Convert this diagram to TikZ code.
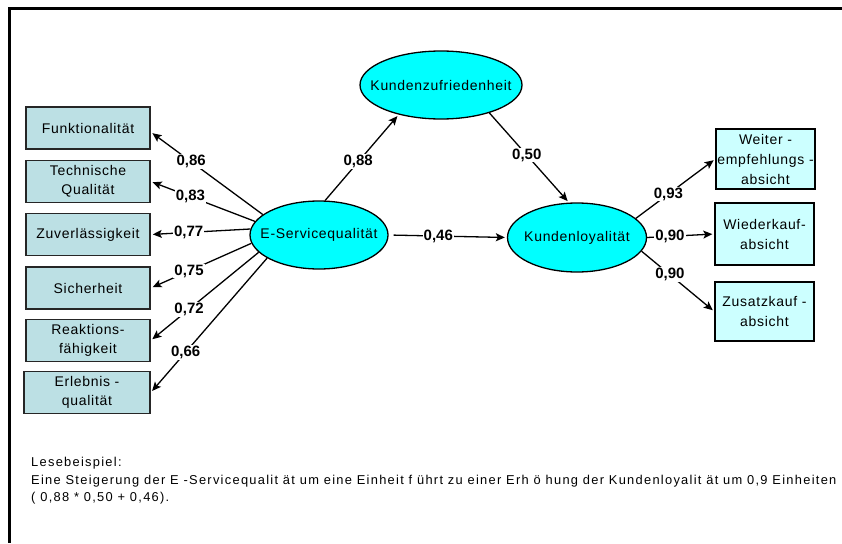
\documentclass[tikz,border=0pt]{standalone}
\usepackage{fontspec}
\setmainfont{Liberation Sans}
\newfontfamily\diagfont[LetterSpace=5]{Liberation Sans}
\newfontfamily\notefont[LetterSpace=10]{Liberation Sans}
\usetikzlibrary{arrows.meta,shapes.geometric}
\definecolor{latfill}{RGB}{0,255,255}
\definecolor{indfill}{RGB}{188,224,228}
\definecolor{outfill}{RGB}{204,255,255}
\begin{document}
\begin{tikzpicture}[x=1pt,y=-1pt,
  latent/.style={ellipse,draw=black,line width=1.3pt,fill=latfill,inner sep=0pt,
    font=\diagfont\fontsize{14}{18}\selectfont},
  indbox/.style={rectangle,draw=black!85,line width=1.6pt,fill=indfill,inner sep=1pt,
    minimum width=124pt,minimum height=42pt,align=center,font=\diagfont\fontsize{14}{19}\selectfont},
  outbox/.style={rectangle,draw=black,line width=1.4pt,fill=outfill,inner sep=0pt,
    minimum width=99pt,align=center,font=\diagfont\fontsize{14}{20}\selectfont},
  lbl/.style={fill=white,inner sep=1pt,font=\bfseries\fontsize{15}{15}\selectfont},
  arr/.style={line width=1.3pt,-{Stealth[length=9pt,width=8pt,inset=2pt]},shorten >=2pt}]
\useasboundingbox (0,0) rectangle (842,543);
% frame
\draw[line width=3pt] (842,8.5) -- (9.5,8.5) -- (9.5,543);
% latent variables
\node[latent,minimum width=138pt,minimum height=68pt] (es) at (319,235) {\makebox[0pt]{E-Servicequalität}};
\node[latent,minimum width=162pt,minimum height=68pt] (kz) at (441,85) {\makebox[0pt]{Kundenzufriedenheit}};
\node[latent,minimum width=139pt,minimum height=69pt] (kl) at (577,237.5) {\makebox[0pt]{Kundenloyalität}};
% indicators left
\node[indbox] (funk) at (88,128) {Funktionalität};
\node[indbox] (tech) at (88,181.5) {Technische\\Qualität};
\node[indbox] (zuv) at (88,234.5) {Zuverlässigkeit};
\node[indbox] (sich) at (88,288) {Sicherheit};
\node[indbox] (reak) at (88,340.5) {Reaktions-\\fähigkeit};
\node[indbox,minimum width=126pt] (erl) at (87,392.5) {Erlebnis -\\qualität};
% indicators right
\node[outbox,minimum height=60pt] (weit) at (765.5,159) {Weiter -\\empfehlungs -\\absicht};
\node[outbox,minimum height=62pt] (wied) at (764.5,234) {Wiederkauf-\\absicht};
\node[outbox,minimum height=59pt] (zus) at (764.5,311.5) {Zusatzkauf -\\absicht};
% loadings
\draw[arr] (es.160) -- node[lbl,pos=0.64]{0,86} ([yshift=-4pt]funk.east);
\draw[arr] (es.168) -- node[lbl,pos=0.62]{0,83} (tech.east);
\draw[arr] (es.175) -- node[lbl,pos=0.62]{0,77} (zuv.east);
\draw[arr] (es.187) -- node[lbl,pos=0.62]{0,75} (sich.east);
\draw[arr] (es.196) -- node[lbl,pos=0.645]{0,72} (reak.east);
\draw[arr] (es.204) -- node[lbl,pos=0.7]{0,66} (erl.east);
% paths
\draw[arr] (es.80) -- node[lbl,pos=0.45]{0,88} (kz.215);
\draw[arr] (kz.-30) -- node[lbl,pos=0.47]{0,50} (kl.103);
\draw[arr,shorten <=5pt] (es.east) -- node[lbl,pos=0.42]{0,46} (kl.west);
\draw[arr] (kl.18) -- node[lbl,pos=0.41]{0,93} (weit.west);
\draw[arr] (kl.east) -- node[lbl,pos=0.34]{0,90} (wied.west);
\draw[arr] (kl.-12) -- node[lbl,pos=0.39]{0,90} (zus.west);
% reading example
\node[anchor=north west,align=left,inner sep=0pt,font=\notefont\fontsize{12.85}{17.5}\selectfont] (note) at (31,457)
  {Lesebeispiel:\\Eine Steigerung der E -Servicequalit ät um eine Einheit f ührt zu einer Erh ö hung der Kundenloyalit ät um 0,9 Einheiten\\( 0,88 * 0,50 + 0,46).};
\end{tikzpicture}
\end{document}
